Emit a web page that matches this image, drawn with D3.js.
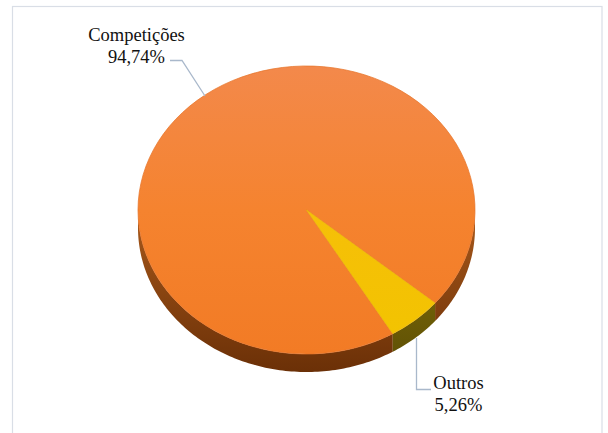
<!DOCTYPE html>
<html>
<head>
<meta charset="utf-8">
<script src="https://cdn.jsdelivr.net/npm/d3@7"></script>
<style>
  html, body { margin: 0; padding: 0; background: #ffffff; }
  svg { display: block; }
</style>
</head>
<body>
<svg id="chart" width="608" height="433"></svg>
<script>
// Share of activities
const categories = ["Competições", "Outros"];
const values = [94.74, 5.26];
const valueLabels = ["94,74%", "5,26%"];

const W = 608, H = 433;
const svg = d3.select("#chart");

// outer chart frame
svg.append("rect")
  .attr("x", 12.5).attr("y", 6.5)
  .attr("width", 589.5).attr("height", 440)
  .attr("fill", "#ffffff")
  .attr("stroke", "#d9dee6")
  .attr("stroke-width", 1.2);

// tilted pie geometry
const cx = 306.5, cy = 210, rx = 168.5, ry = 144, depth = 18;
const deg = Math.PI / 180;
const start = 149.2 * deg;

const pie = d3.pie().sort(null).value(d => d)
  .startAngle(start).endAngle(start + 2 * Math.PI);
const slices = pie(values);

const defs = svg.append("defs");
const topFill = [
  ["#f3894b", "#f5832f", "#f27b25"],
  ["#f7b61a", "#f6bf08", "#f2c400"]
];
const wallFill = [
  ["#a8591b", "#6b3007"],
  ["#8a760a", "#5c4e04"]
];
topFill.forEach((c, i) => {
  const g = defs.append("linearGradient").attr("id", "top" + i)
    .attr("gradientUnits", "userSpaceOnUse")
    .attr("x1", 0).attr("y1", -rx).attr("x2", 0).attr("y2", rx);
  g.append("stop").attr("offset", "0%").attr("stop-color", c[0]);
  g.append("stop").attr("offset", "50%").attr("stop-color", c[1]);
  g.append("stop").attr("offset", "100%").attr("stop-color", c[2]);
});
wallFill.forEach((c, i) => {
  const g = defs.append("linearGradient").attr("id", "wall" + i)
    .attr("gradientUnits", "userSpaceOnUse")
    .attr("x1", 0).attr("y1", cy).attr("x2", 0).attr("y2", cy + ry + depth);
  g.append("stop").attr("offset", "0%").attr("stop-color", c[0]);
  g.append("stop").attr("offset", "100%").attr("stop-color", c[1]);
});

// point on the top rim at angle a (0 = up, clockwise)
const rim = (a, dy = 0) => [cx + rx * Math.sin(a), cy - ry * Math.cos(a) + dy];

// visible side wall of a slice: the part facing the viewer (angles pi/2 .. 3pi/2)
function wallPaths(s) {
  const out = [];
  [0, 2 * Math.PI].forEach(off => {
    const a0 = Math.max(s.startAngle, Math.PI / 2 + off);
    const a1 = Math.min(s.endAngle, 3 * Math.PI / 2 + off);
    if (a1 <= a0) return;
    const n = Math.max(2, Math.ceil((a1 - a0) / (1 * deg)));
    const topPts = d3.range(n + 1).map(k => rim(a0 + (a1 - a0) * k / n));
    const botPts = topPts.map(p => [p[0], p[1] + depth]).reverse();
    out.push(d3.line()(topPts.concat(botPts)) + "Z");
  });
  return out;
}

const walls = svg.append("g");
slices.forEach((s, i) => {
  wallPaths(s).forEach(p => {
    walls.append("path").attr("d", p)
      .attr("fill", "url(#wall" + i + ")");
  });
});

// top face
const arc = d3.arc().innerRadius(0).outerRadius(rx);
svg.append("g")
  .attr("transform", `translate(${cx},${cy}) scale(1,${ry / rx})`)
  .selectAll("path")
  .data(slices)
  .join("path")
  .attr("d", arc)
  .attr("fill", (d, i) => `url(#top${i})`)
  .attr("stroke", (d, i) => i === 0 ? "#e6752a" : "#ebb50a")
  .attr("stroke-width", 0.8);

// leader lines
const leader = svg.append("g")
  .attr("fill", "none")
  .attr("stroke", "#a9b8cb")
  .attr("stroke-width", 1.3);
leader.append("polyline").attr("points", "170,60.5 182,60.5 205,96");
leader.append("polyline").attr("points", "416.5,338 416.5,389.5 431,389.5");

// data labels
const labelPos = [[136.5, 40.5], [458.5, 389]];
categories.forEach((c, i) => {
  const t = svg.append("text")
    .attr("x", labelPos[i][0]).attr("y", labelPos[i][1])
    .attr("font-family", "Liberation Serif")
    .attr("font-size", 18.5)
    .attr("fill", "#111")
    .attr("text-anchor", "middle");
  t.append("tspan").attr("x", labelPos[i][0]).text(c);
  t.append("tspan").attr("x", labelPos[i][0]).attr("dy", 22).text(valueLabels[i]);
});
</script>
</body>
</html>
